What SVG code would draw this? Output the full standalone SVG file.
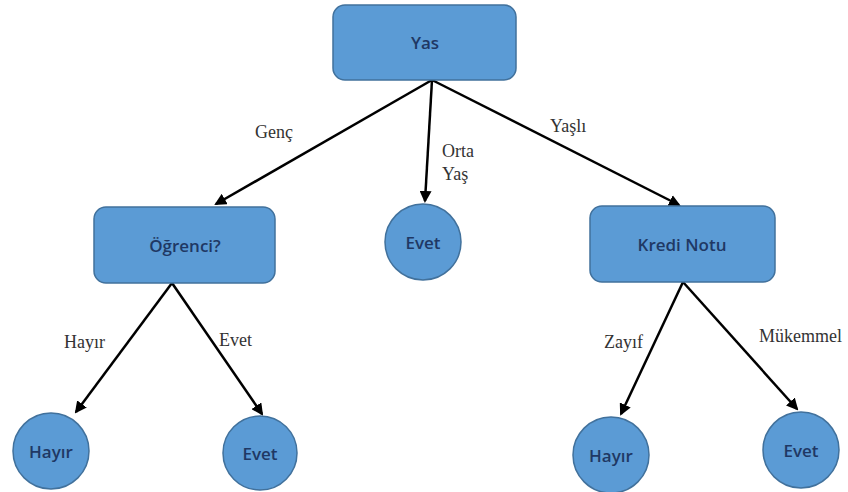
<svg xmlns="http://www.w3.org/2000/svg" width="848" height="492" viewBox="0 0 848 492">
<defs>
<marker id="ah" markerWidth="12" markerHeight="12" refX="10" refY="6" orient="auto" markerUnits="userSpaceOnUse">
<path d="M0,0 L12,6 L0,12 z" fill="#000"/>
</marker>
<style>
.box{fill:#5b9bd5;stroke:#41719c;stroke-width:1.5}
.nt{font-family:"Open Sans","Noto Sans",sans-serif;font-size:17px;font-weight:600;fill:#1f3864;text-anchor:middle;dominant-baseline:central}
.lbl{font-family:"Liberation Serif",serif;font-size:18px;fill:#333}
.edge{stroke:#000;stroke-width:2.5;fill:none;marker-end:url(#ah)}
</style>
</defs>
<rect width="848" height="492" fill="#fff"/>
<g id="connectors">
<line class="edge" x1="432" y1="80" x2="216" y2="204"/>
<line class="edge" x1="432" y1="80" x2="425" y2="201"/>
<line class="edge" x1="432" y1="80" x2="679" y2="205"/>
<line class="edge" x1="172" y1="283" x2="76" y2="412"/>
<line class="edge" x1="172" y1="283" x2="262" y2="414"/>
<line class="edge" x1="683" y1="282" x2="621" y2="414"/>
<line class="edge" x1="683" y1="282" x2="797" y2="409"/>
</g>
<g id="labels">
<text class="lbl" x="255" y="138">Genç</text>
<text class="lbl" x="442" y="157">Orta</text>
<text class="lbl" x="442" y="180">Yaş</text>
<text class="lbl" x="550" y="132">Yaşlı</text>
<text class="lbl" x="64" y="348">Hayır</text>
<text class="lbl" x="219" y="346">Evet</text>
<text class="lbl" x="604" y="348">Zayıf</text>
<text class="lbl" x="759" y="342">Mükemmel</text>
</g>
<g id="n-yas"><rect class="box" x="333" y="5" width="183" height="75" rx="12"/><text class="nt" x="425" y="42">Yas</text></g>
<g id="n-ogrenci"><rect class="box" x="94" y="207" width="181" height="76" rx="12"/><text class="nt" x="185" y="245">Öğrenci?</text></g>
<g id="n-orta-evet"><circle class="box" cx="423" cy="242" r="38"/><text class="nt" x="423" y="242">Evet</text></g>
<g id="n-kredi"><rect class="box" x="590" y="206" width="185" height="76" rx="12"/><text class="nt" x="682" y="244">Kredi Notu</text></g>
<g id="n-hayir1"><circle class="box" cx="51" cy="451" r="38"/><text class="nt" x="51" y="451">Hayır</text></g>
<g id="n-evet1"><circle class="box" cx="260" cy="453" r="37"/><text class="nt" x="260" y="453">Evet</text></g>
<g id="n-hayir2"><circle class="box" cx="611" cy="455" r="38"/><text class="nt" x="611" y="455">Hayır</text></g>
<g id="n-evet2"><circle class="box" cx="801" cy="450" r="38"/><text class="nt" x="801" y="450">Evet</text></g>
</svg>
